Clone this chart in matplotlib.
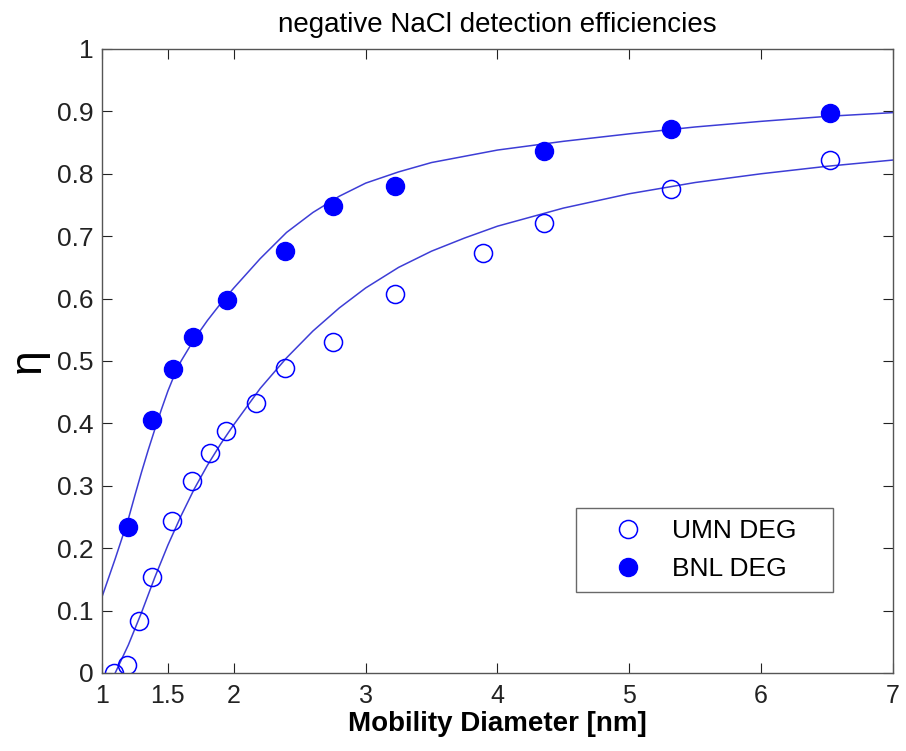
import numpy as np
import matplotlib
matplotlib.use('Agg')
import matplotlib.pyplot as plt

plt.rcParams['font.family'] = ['Liberation Sans', 'DejaVu Sans']

# UMN DEG measurements (open circles)
umn_d = [1.09, 1.19, 1.28, 1.38, 1.53, 1.68, 1.82, 1.94, 2.17, 2.39, 2.75, 3.22, 3.89, 4.35, 5.32, 6.52]
umn_eta = [0.0, 0.013, 0.083, 0.153, 0.244, 0.307, 0.353, 0.387, 0.433, 0.488, 0.530, 0.608, 0.673, 0.721, 0.776, 0.822]

# BNL DEG measurements (filled circles)
bnl_d = [1.20, 1.38, 1.54, 1.69, 1.95, 2.39, 2.75, 3.22, 4.35, 5.32, 6.52]
bnl_eta = [0.234, 0.405, 0.487, 0.539, 0.597, 0.676, 0.748, 0.781, 0.836, 0.872, 0.897]

# fitted curves
umn_fit_d = [1.10, 1.20, 1.30, 1.40, 1.50, 1.60, 1.70, 1.80, 1.90, 2.00, 2.20, 2.40, 2.60,
             2.80, 3.00, 3.25, 3.50, 3.75, 4.00, 4.50, 5.00, 5.50, 6.00, 6.50, 7.00]
umn_fit_eta = [0.0, 0.045, 0.097, 0.153, 0.205, 0.252, 0.295, 0.333, 0.367, 0.398, 0.456, 0.505, 0.548,
               0.585, 0.617, 0.650, 0.676, 0.697, 0.716, 0.745, 0.768, 0.786, 0.800, 0.812, 0.822]

bnl_fit_d = [1.00, 1.10, 1.20, 1.25, 1.30, 1.35, 1.40, 1.45, 1.50, 1.55, 1.60, 1.70, 1.80, 1.90, 2.00,
             2.20, 2.40, 2.60, 2.80, 3.00, 3.25, 3.50, 4.00, 4.50, 5.00, 5.50, 6.00, 6.50, 7.00]
bnl_fit_eta = [0.122, 0.183, 0.247, 0.285, 0.322, 0.357, 0.390, 0.422, 0.452, 0.478, 0.500, 0.535, 0.565,
               0.592, 0.617, 0.664, 0.706, 0.738, 0.764, 0.785, 0.803, 0.818, 0.838, 0.852, 0.864, 0.875,
               0.884, 0.892, 0.898]

xticks = [1, 1.5, 2, 3, 4, 5, 6, 7]
xticklabels = ['1', '1.5', '2', '3', '4', '5', '6', '7']
yticks = np.round(np.arange(0, 1.01, 0.1), 1)
yticklabels = ['0'] + ['%.1f' % v for v in yticks[1:-1]] + ['1']

fig = plt.figure(figsize=(9.06, 7.51), dpi=100)
ax = fig.add_axes([0.1126, 0.1039, 0.873, 0.8309])

ax.plot(umn_fit_d, umn_fit_eta, color='#3d3dd6', lw=1.1)
ax.plot(bnl_fit_d, bnl_fit_eta, color='#3d3dd6', lw=1.1)
ax.plot(umn_d, umn_eta, 'o', ms=13, mfc='none', mec='blue', mew=1.1, label='UMN DEG')
ax.plot(bnl_d, bnl_eta, 'o', ms=13, mfc='blue', mec='blue', label='BNL DEG')

ax.set_xlim(1, 7)
ax.set_ylim(0, 1)
ax.set_xticks(xticks)
ax.set_xticklabels(xticklabels)
ax.set_yticks(yticks)
ax.set_yticklabels(yticklabels)
ax.tick_params(direction='in', length=7, width=0.8, top=True, right=True, colors='#222222')
ax.tick_params(axis='y', labelsize=19, pad=6)
ax.tick_params(axis='x', labelsize=18, pad=8)
for s in ax.spines.values():
    s.set_color('#555555')
    s.set_linewidth(1.0)

ax.set_title('negative NaCl detection efficiencies', fontsize=20, pad=12)
ax.set_xlabel('Mobility Diameter [nm]', fontsize=20, fontweight='bold', labelpad=2)
ax.set_ylabel('η', fontsize=32, labelpad=6)

leg = ax.legend(loc='lower left', bbox_to_anchor=(0.599, 0.13, 0.325, 0.135), mode='expand',
                fontsize=19, frameon=True, fancybox=False, edgecolor='#444444', borderpad=0.4,
                handletextpad=0.1, handlelength=3.15, borderaxespad=0, labelspacing=0.55,
                numpoints=1)
leg.get_frame().set_linewidth(1.0)

fig.savefig('out.png', dpi=100)
